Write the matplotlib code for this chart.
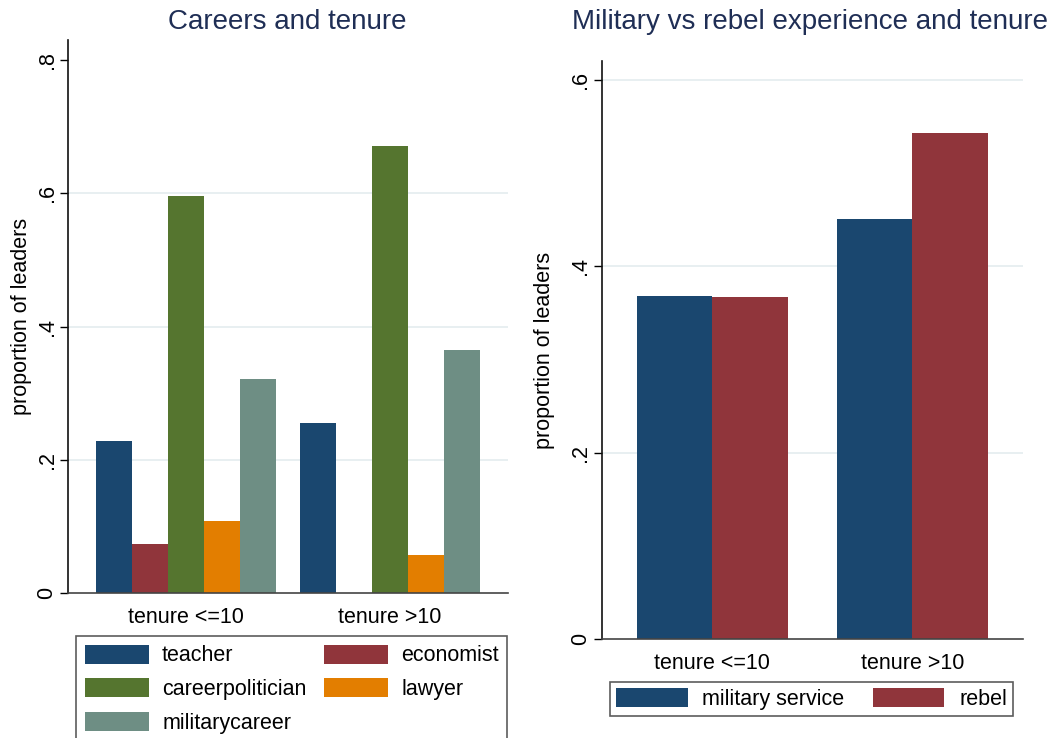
import matplotlib
matplotlib.use("Agg")
import matplotlib.pyplot as plt
import numpy as np

plt.rcParams['font.family'] = ['Liberation Sans', 'DejaVu Sans']

groups = ["tenure <=10", "tenure >10"]

careers = ["teacher", "economist", "careerpolitician", "lawyer", "militarycareer"]
career_vals = [
    [0.228, 0.255],   # teacher
    [0.074, 0.0],     # economist
    [0.596, 0.671],   # careerpolitician
    [0.108, 0.057],   # lawyer
    [0.321, 0.365],   # militarycareer
]

experience = ["military service", "rebel"]
experience_vals = [
    [0.368, 0.451],   # military service
    [0.367, 0.543],   # rebel
]

left_ticks = [0, 0.2, 0.4, 0.6, 0.8]
left_grid = [0.2, 0.4, 0.6]
right_ticks = [0, 0.2, 0.4, 0.6]
right_grid = [0.2, 0.4, 0.6]

colors = ["#1a476f", "#90353b", "#55752f", "#e37e00", "#6e8e84"]
title_color = "#1f2e55"
grid_color = "#e6eef0"
FS = 15.5


def tick_fmt(v):
    s = ("%.1f" % v).lstrip("0")
    return "0" if v == 0 else s


def style_axes(ax, ticks, grid, tickpad, label_x):
    for g in grid:
        ax.axhline(g, color=grid_color, lw=1.3, zorder=0)
    ax.set_yticks(ticks)
    ax.set_yticklabels([tick_fmt(t) for t in ticks], rotation=90, va="center")
    ax.spines["top"].set_visible(False)
    ax.spines["right"].set_visible(False)
    ax.spines["left"].set_color("#111111")
    ax.spines["left"].set_linewidth(1.2)
    ax.spines["bottom"].set_color("#444444")
    ax.spines["bottom"].set_linewidth(1.2)
    ax.tick_params(axis="y", length=6, width=1, labelsize=FS, pad=tickpad)
    ax.tick_params(axis="x", length=0, labelsize=FS, pad=10)
    ax.set_ylabel("proportion of leaders", fontsize=FS, va="center")
    ax.yaxis.set_label_coords(label_x, 0.5)


fig = plt.figure(figsize=(10.57, 7.38), dpi=100)

# left panel: careers
ax1 = fig.add_axes([0.0643, 0.196, 0.4163, 0.7498])
x = np.arange(len(groups))
w = 0.177
handles = {}
for i, (name, vals) in enumerate(zip(careers, career_vals)):
    off = (i - (len(careers) - 1) / 2) * w
    handles[name] = ax1.bar(x + off, vals, w, color=colors[i], label=name,
                            zorder=2, linewidth=0)
ax1.set_xlim(-0.578, 1.578)
ax1.set_ylim(0, 0.83)
ax1.set_xticks(x)
ax1.set_xticklabels(groups)
style_axes(ax1, left_ticks, left_grid, tickpad=1.5, label_x=-0.106)

fig.text(0.272, 1 - 22 / 738, "Careers and tenure", ha="center", va="center",
         fontsize=20, color=title_color)

# legend fills column-first, so order the handles to read row by row
leg_order = ["teacher", "careerpolitician", "militarycareer", "economist", "lawyer"]
leg1 = fig.legend(handles=[handles[n] for n in leg_order], labels=leg_order,
                  loc="upper left", bbox_to_anchor=(76 / 1057, 1 - 636 / 738),
                  ncol=2, fontsize=FS, frameon=True, fancybox=False,
                  edgecolor="#333333", handlelength=3.0, handleheight=0.98,
                  handletextpad=0.6, columnspacing=0.8, labelspacing=0.55,
                  borderpad=0.4, borderaxespad=0)
leg1.get_frame().set_linewidth(1.2)

# right panel: military vs rebel
ax2 = fig.add_axes([0.5693, 0.1337, 0.3983, 0.7836])
w2 = 0.3775
handles2 = []
for i, (name, vals) in enumerate(zip(experience, experience_vals)):
    off = (i - 0.5) * w2
    b = ax2.bar(x + off, vals, w2, color=colors[i], label=name, zorder=2, linewidth=0)
    handles2.append(b)
ax2.set_xlim(-0.553, 1.552)
ax2.set_ylim(0, 0.62)
ax2.set_xticks(x)
ax2.set_xticklabels(groups)
style_axes(ax2, right_ticks, right_grid, tickpad=2, label_x=-0.135)

fig.text(0.766, 1 - 22 / 738, "Military vs rebel experience and tenure", ha="center",
         va="center", fontsize=20, color=title_color)

leg2 = fig.legend(handles=handles2, loc="upper left",
                  bbox_to_anchor=(610 / 1057, 1 - 681.7 / 738), ncol=2, fontsize=FS,
                  frameon=True, fancybox=False, edgecolor="#333333",
                  handlelength=3.3, handleheight=0.98, handletextpad=0.68,
                  columnspacing=1.35, borderpad=0.3, borderaxespad=0)
leg2.get_frame().set_linewidth(1.2)

fig.savefig("out.png", dpi=100)
